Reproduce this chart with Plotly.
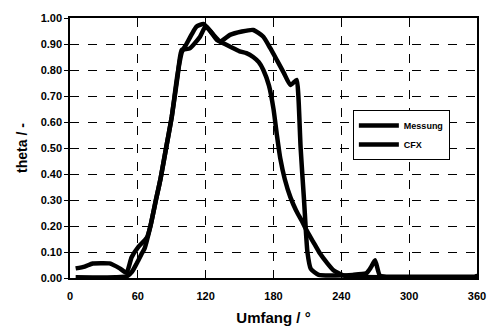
import plotly.graph_objects as go

# Data
messung_x = [5, 13, 20, 28, 35, 44, 50, 54.5, 60.5, 68, 71, 76, 80, 85, 90, 95, 98.8,
             106, 115, 120, 126, 133, 141.5, 152, 162, 171, 177, 183, 189, 195, 200.5,
             202, 204, 207, 210, 213, 220, 235, 250, 262, 266, 269.8, 274, 280, 300, 330, 360]
messung_y = [0.037, 0.044, 0.056, 0.057, 0.056, 0.037, 0.02, 0.08, 0.12, 0.155, 0.197, 0.3,
             0.38, 0.5, 0.62, 0.77, 0.877, 0.883, 0.928, 0.968, 0.94, 0.91, 0.935, 0.948,
             0.954, 0.928, 0.885, 0.838, 0.79, 0.742, 0.762, 0.7, 0.5, 0.3, 0.1, 0.035,
             0.012, 0.01, 0.012, 0.018, 0.04, 0.068, 0.01, 0.005, 0.005, 0.005, 0.005]

cfx_x = [5, 20, 40, 50, 55, 59, 63, 66, 71, 76, 80, 85, 90, 95, 99, 103, 108, 112, 118,
         124, 130, 137, 144, 150, 156, 162, 167, 171, 176, 180, 183, 186, 190, 195, 200,
         205, 209, 215, 221, 227, 233, 241.7, 250, 300, 360]
cfx_y = [0.003, 0.002, 0.003, 0.006, 0.025, 0.056, 0.09, 0.114, 0.197, 0.3, 0.38, 0.5,
         0.62, 0.78, 0.87, 0.9, 0.94, 0.967, 0.977, 0.95, 0.915, 0.9, 0.885, 0.872, 0.865,
         0.85, 0.83, 0.8, 0.74, 0.65, 0.55, 0.46, 0.38, 0.31, 0.26, 0.22, 0.185, 0.14,
         0.095, 0.06, 0.03, 0.01, 0.005, 0.003, 0.003]

x_ticks = [0, 60, 120, 180, 240, 300, 360]
y_ticks = [0.0, 0.1, 0.2, 0.3, 0.4, 0.5, 0.6, 0.7, 0.8, 0.9, 1.0]

FONT = "Liberation Sans, Arial, sans-serif"

fig = go.Figure()
fig.add_trace(go.Scatter(x=messung_x, y=messung_y, mode="lines", name="Messung",
                         line=dict(color="black", width=4.5, shape="spline", smoothing=0.5)))
fig.add_trace(go.Scatter(x=cfx_x, y=cfx_y, mode="lines", name="CFX",
                         line=dict(color="black", width=4.5, shape="spline", smoothing=0.5)))
fig.add_trace(go.Scatter(x=[360], y=[0.005], mode="markers", showlegend=False,
                         marker=dict(color="black", size=6)))

fig.update_layout(
    width=487, height=318,
    margin=dict(l=62, r=18, t=10, b=48, autoexpand=False),
    paper_bgcolor="white", plot_bgcolor="white",
    font=dict(family=FONT, color="black", size=11),
    legend=dict(x=0.695, y=0.646, xanchor="left", yanchor="top",
                bgcolor="white", bordercolor="black", borderwidth=1,
                font=dict(family=FONT, size=9, weight="bold"),
                itemwidth=40, tracegroupgap=0),
)
fig.update_xaxes(
    range=[0, 360], tickvals=x_ticks, ticktext=[str(v) for v in x_ticks],
    showgrid=True, gridcolor="black", griddash="dash", gridwidth=1,
    showline=True, linecolor="black", linewidth=1.5, mirror=True,
    ticks="inside", ticklen=4, tickcolor="black", automargin=False,
    ticklabelstandoff=7,
    tickfont=dict(size=11, weight="bold"), zeroline=False,
    title=dict(text="Umfang / °", font=dict(size=15, weight="bold"), standoff=12),
)
fig.update_yaxes(
    range=[0, 1], tickvals=y_ticks, ticktext=[f"{v:.2f}" for v in y_ticks],
    showgrid=True, gridcolor="black", griddash="dash", gridwidth=1,
    showline=True, linecolor="black", linewidth=1.5, mirror=True,
    ticks="outside", ticklen=4, tickcolor="black", automargin=False,
    tickfont=dict(size=11, weight="bold"), zeroline=False,
    title=dict(text="theta / -", font=dict(size=14, weight="bold"), standoff=10),
)

fig.write_html("out.html")
